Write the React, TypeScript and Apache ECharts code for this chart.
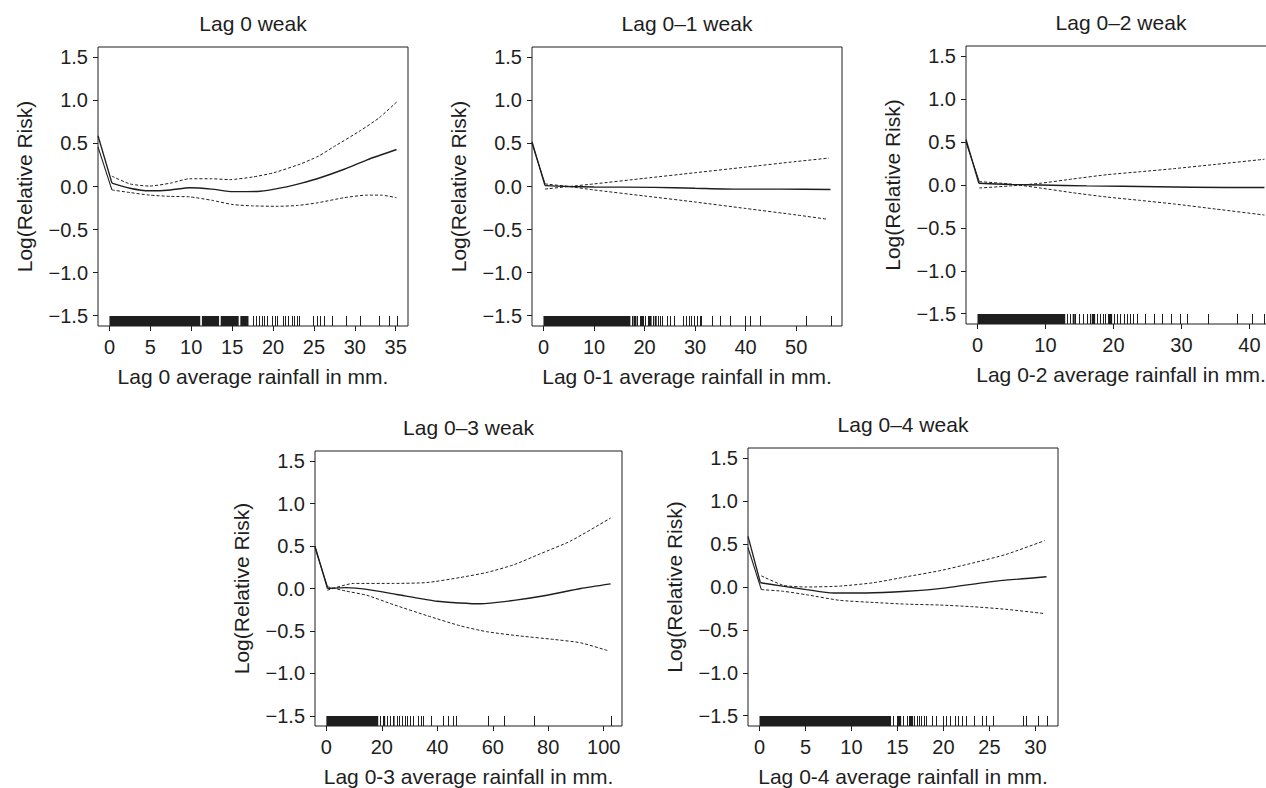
import React, { useEffect, useRef } from "react";
import * as echarts from "echarts";

// ---------- data ----------
const Y_MIN = -1.62;
const Y_MAX = 1.62;
const Y_TICKS = [-1.5, -1.0, -0.5, 0.0, 0.5, 1.0, 1.5];
const Y_NAME = "Log(Relative Risk)";

// Panel 1 : Lag 0
const P1_TITLE = "Lag 0 weak";
const P1_XNAME = "Lag 0 average rainfall in mm.";
const P1_XRANGE = [-1.4, 36.5];
const P1_XTICKS = [0, 5, 10, 15, 20, 25, 30, 35];
const P1_LEAD = [[-1.4, 0.59], [-1.4, 0.46]];
const P1_FIT = [[0.3, 0.04], [2.5, -0.02], [4.9, -0.05], [7.5, -0.04], [9.8, -0.015], [12.5, -0.03], [15.1, -0.06], [18.4, -0.055], [21.3, -0.01], [23.5, 0.04], [25.4, 0.09], [28.7, 0.2], [31.5, 0.31], [35.1, 0.43]];
const P1_UPPER = [[0.3, 0.12], [2.5, 0.03], [4.9, 0.005], [7.5, 0.04], [9.8, 0.09], [12.5, 0.09], [14.7, 0.08], [17.5, 0.11], [20.1, 0.16], [23.3, 0.26], [25.5, 0.35], [27.4, 0.46], [30.7, 0.65], [33.0, 0.8], [35.1, 0.98]];
const P1_LOWER = [[0.3, -0.04], [2.5, -0.07], [4.9, -0.1], [7.5, -0.115], [9.8, -0.12], [12.5, -0.16], [15.1, -0.21], [17.5, -0.225], [20.5, -0.23], [23.0, -0.22], [25.4, -0.19], [28.7, -0.13], [31.5, -0.1], [33.2, -0.1], [35.1, -0.13]];
const P1_RUG_BLOCKS = [[0, 11.1], [11.3, 13.4], [13.6, 15.8], [16.0, 17.0]];
const P1_RUG = [17.6, 17.93, 18.34, 18.62, 18.91, 19.32, 19.85, 20.26, 20.47, 21.2, 21.49, 21.78, 22.31, 22.6, 22.92, 23.13, 24.85, 25.38, 25.79, 26.28, 27.22, 28.94, 30.58, 32.95, 34.18, 35.12];

// Panel 2 : Lag 0-1
const P2_TITLE = "Lag 0\u20131 weak";
const P2_XNAME = "Lag 0-1 average rainfall in mm.";
const P2_XRANGE = [-2.27, 59.07];
const P2_XTICKS = [0, 10, 20, 30, 40, 50];
const P2_LEAD = [[-2.27, 0.52], [-2.27, 0.5]];
const P2_FIT = [[0.3, 0.01], [5, 0.0], [10, -0.005], [21.8, -0.01], [30, -0.02], [37.6, -0.03], [47, -0.03], [56.8, -0.035]];
const P2_UPPER = [[0.3, -0.03], [5, 0.0], [10, 0.03], [20, 0.095], [30, 0.16], [40, 0.225], [50, 0.29], [56.5, 0.33]];
const P2_LOWER = [[0.3, 0.03], [5, 0.0], [10, -0.04], [20, -0.11], [30, -0.18], [40, -0.255], [50, -0.33], [56.2, -0.38]];
const P2_RUG_BLOCKS = [[0, 17.2], [17.8, 18.4], [19.3, 19.9], [20.8, 21.4], [22.0, 22.4]];
const P2_RUG = [17.5, 18.15, 18.6, 19.1, 19.7, 20.1, 20.6, 21.1, 21.7, 22.1, 22.6, 23.0, 23.4, 24.4, 25.1, 25.9, 27.7, 28.2, 28.7, 29.2, 29.7, 30.4, 30.9, 31.2, 33.3, 35.0, 37.0, 39.9, 40.9, 42.8, 52.0, 56.8];

// Panel 3 : Lag 0-2
const P3_TITLE = "Lag 0\u20132 weak";
const P3_XNAME = "Lag 0-2 average rainfall in mm.";
const P3_XRANGE = [-1.69, 43.9];
const P3_XTICKS = [0, 10, 20, 30, 40];
const P3_LEAD = [[-1.69, 0.53], [-1.69, 0.5]];
const P3_FIT = [[0.2, 0.02], [5, 0.005], [9.2, 0.0], [16.1, -0.01], [26.4, -0.02], [36.7, -0.03], [42.2, -0.03]];
const P3_UPPER = [[0.25, -0.035], [5, -0.01], [9.2, 0.02], [14, 0.07], [19, 0.12], [24, 0.155], [28.8, 0.19], [35, 0.24], [42.2, 0.3]];
const P3_LOWER = [[0.25, 0.04], [5, 0.01], [9.2, -0.035], [14, -0.09], [19, -0.14], [24, -0.18], [28.8, -0.22], [35, -0.28], [42.2, -0.35]];
const P3_RUG_BLOCKS = [[0, 12.9], [14.0, 14.3], [16.8, 17.3], [19.2, 19.8]];
const P3_RUG = [13.1, 13.6, 14.4, 14.9, 15.5, 16.1, 16.6, 17.1, 17.6, 18.0, 18.4, 18.8, 19.3, 19.6, 20.1, 20.5, 21.0, 21.5, 22.0, 22.5, 22.9, 23.4, 24.66, 25.9, 27.1, 28.4, 29.8, 30.8, 33.9, 38.2, 40.4, 42.2];

// Panel 4 : Lag 0-3
const P4_TITLE = "Lag 0\u20133 weak";
const P4_XNAME = "Lag 0-3 average rainfall in mm.";
const P4_XRANGE = [-4.1, 106.6];
const P4_XTICKS = [0, 20, 40, 60, 80, 100];
const P4_LEAD = [[-4.1, 0.5], [-4.1, 0.48]];
const P4_FIT = [[0.4, 0.0], [7, 0.01], [14.6, -0.01], [25.4, -0.07], [39.9, -0.15], [48, -0.17], [55.5, -0.18], [67.6, -0.14], [79.6, -0.08], [91.7, 0.0], [102.5, 0.055]];
const P4_UPPER = [[0.4, -0.02], [9.8, 0.06], [24.2, 0.06], [36.3, 0.07], [48.3, 0.13], [58, 0.19], [67.6, 0.28], [77.2, 0.41], [88.1, 0.56], [102.5, 0.83]];
const P4_LOWER = [[0.4, 0.02], [7, -0.03], [14.6, -0.08], [24.2, -0.19], [36.3, -0.32], [48.3, -0.44], [58, -0.51], [70, -0.56], [82, -0.6], [91.7, -0.64], [101.3, -0.73]];
const P4_RUG_BLOCKS = [[0, 18.7], [20.5, 21.2], [24.1, 24.6]];
const P4_RUG = [19.3, 20.5, 21.7, 22.9, 24.1, 25.3, 26.3, 27.1, 28.3, 29.2, 30.1, 31.1, 33.1, 34.0, 34.9, 37.6, 41.9, 44.0, 45.5, 46.7, 58.4, 63.9, 74.7, 102.5];

// Panel 5 : Lag 0-4
const P5_TITLE = "Lag 0\u20134 weak";
const P5_XNAME = "Lag 0-4 average rainfall in mm.";
const P5_XRANGE = [-1.25, 32.45];
const P5_XTICKS = [0, 5, 10, 15, 20, 25, 30];
const P5_LEAD = [[-1.25, 0.59], [-1.25, 0.46]];
const P5_FIT = [[0.1, 0.05], [2.5, 0.01], [5.1, -0.03], [8, -0.07], [11.6, -0.07], [16, -0.05], [20.3, -0.01], [25, 0.06], [31.2, 0.12]];
const P5_UPPER = [[0.2, 0.13], [2.6, 0.02], [5.1, 0.0], [8.7, 0.01], [12.4, 0.05], [16, 0.12], [19.6, 0.19], [23.2, 0.28], [26.8, 0.38], [31, 0.54]];
const P5_LOWER = [[0.2, -0.03], [2.6, -0.05], [5.1, -0.09], [8.7, -0.155], [12.4, -0.18], [16, -0.2], [19.6, -0.21], [23.2, -0.23], [26.8, -0.26], [31, -0.31]];
const P5_RUG_BLOCKS = [[0, 14.3], [15.0, 15.4], [16.3, 16.7]];
const P5_RUG = [14.5, 14.9, 15.2, 15.6, 16.0, 16.2, 16.5, 16.8, 17.1, 17.3, 17.6, 17.9, 18.1, 18.7, 19.2, 20.0, 20.3, 20.7, 21.2, 21.6, 22.0, 22.5, 23.3, 24.2, 24.6, 25.4, 28.6, 29.0, 30.3, 31.2];

// ---------- layout & style ----------
const LAYOUT = [
  { left: 98, top: 47, width: 310, height: 279 },
  { left: 532, top: 47, width: 310, height: 279 },
  { left: 966, top: 46, width: 310, height: 278 },
  { left: 315, top: 451, width: 307, height: 275 },
  { left: 748, top: 448, width: 310, height: 278 },
];
const INK = "#1e1e1e";
const FONT = '"Liberation Sans", Arial, Helvetica, sans-serif';
const RUG_LEN = 10;

const PANELS = [
  { title: P1_TITLE, xName: P1_XNAME, xRange: P1_XRANGE, xTicks: P1_XTICKS, lead: P1_LEAD, fit: P1_FIT, upper: P1_UPPER, lower: P1_LOWER, blocks: P1_RUG_BLOCKS, rug: P1_RUG },
  { title: P2_TITLE, xName: P2_XNAME, xRange: P2_XRANGE, xTicks: P2_XTICKS, lead: P2_LEAD, fit: P2_FIT, upper: P2_UPPER, lower: P2_LOWER, blocks: P2_RUG_BLOCKS, rug: P2_RUG },
  { title: P3_TITLE, xName: P3_XNAME, xRange: P3_XRANGE, xTicks: P3_XTICKS, lead: P3_LEAD, fit: P3_FIT, upper: P3_UPPER, lower: P3_LOWER, blocks: P3_RUG_BLOCKS, rug: P3_RUG },
  { title: P4_TITLE, xName: P4_XNAME, xRange: P4_XRANGE, xTicks: P4_XTICKS, lead: P4_LEAD, fit: P4_FIT, upper: P4_UPPER, lower: P4_LOWER, blocks: P4_RUG_BLOCKS, rug: P4_RUG },
  { title: P5_TITLE, xName: P5_XNAME, xRange: P5_XRANGE, xTicks: P5_XTICKS, lead: P5_LEAD, fit: P5_FIT, upper: P5_UPPER, lower: P5_LOWER, blocks: P5_RUG_BLOCKS, rug: P5_RUG },
];

const fmtY = (v: number) => (v < 0 ? "\u2212" : "") + Math.abs(v).toFixed(1);

function buildOption() {
  const grid: any[] = [];
  const xAxis: any[] = [];
  const yAxis: any[] = [];
  const series: any[] = [];
  const graphic: any[] = [];

  PANELS.forEach((p, i) => {
    const g = LAYOUT[i];
    grid.push({
      left: g.left, top: g.top, width: g.width, height: g.height,
      show: true, borderColor: INK, borderWidth: 1, backgroundColor: "transparent",
      containLabel: false, outerBoundsMode: "none",
    });
    xAxis.push({
      type: "value", gridIndex: i, min: p.xRange[0], max: p.xRange[1], position: "bottom",
      axisLine: { show: false, onZero: false },
      axisTick: { show: true, inside: false, length: 5, lineStyle: { color: INK, width: 1 }, customValues: p.xTicks },
      axisLabel: { show: true, customValues: p.xTicks, margin: 11, color: INK, fontSize: 20, fontFamily: FONT, formatter: (v: number) => String(v) },
      splitLine: { show: false },
      name: p.xName, nameLocation: "middle", nameGap: 40,
      nameTextStyle: { color: INK, fontSize: 21, fontFamily: FONT },
    });
    yAxis.push({
      type: "value", gridIndex: i, min: Y_MIN, max: Y_MAX, position: "left",
      axisLine: { show: false, onZero: false },
      axisTick: { show: true, inside: false, length: 5, lineStyle: { color: INK, width: 1 }, customValues: Y_TICKS },
      axisLabel: { show: true, customValues: Y_TICKS, margin: 10, color: INK, fontSize: 20, fontFamily: FONT, formatter: fmtY },
      splitLine: { show: false },
      name: Y_NAME, nameLocation: "middle", nameGap: 63, nameRotate: 90,
      nameTextStyle: { color: INK, fontSize: 21, fontFamily: FONT },
    });

    const base = { type: "line", xAxisIndex: i, yAxisIndex: i, showSymbol: false, symbol: "none", silent: true, clip: true };
    series.push({ ...base, data: [p.lead[0], p.fit[0]], lineStyle: { color: INK, width: 1.3, type: "solid" } });
    series.push({ ...base, data: [p.lead[1], p.lower[0]], lineStyle: { color: INK, width: 1.1, type: "solid" } });
    series.push({ ...base, data: p.fit, smooth: 0.2, lineStyle: { color: INK, width: 1.4, type: "solid" } });
    series.push({ ...base, data: p.upper, smooth: 0.2, lineStyle: { color: INK, width: 1, type: [3, 2] } });
    series.push({ ...base, data: p.lower, smooth: 0.2, lineStyle: { color: INK, width: 1, type: [3, 2] } });

    series.push({
      type: "custom", xAxisIndex: i, yAxisIndex: i, silent: true,
      data: p.blocks.map((b) => [b[0], b[1], Y_MIN]),
      encode: { x: [0, 1], y: 2 },
      renderItem: (params: any, api: any) => {
        const a = api.coord([api.value(0), api.value(2)]);
        const b = api.coord([api.value(1), api.value(2)]);
        return { type: "rect", shape: { x: a[0], y: a[1] - RUG_LEN, width: Math.max(1, b[0] - a[0]), height: RUG_LEN }, style: { fill: INK } };
      },
    });
    series.push({
      type: "custom", xAxisIndex: i, yAxisIndex: i, silent: true,
      data: p.rug.map((v) => [v, Y_MIN]),
      encode: { x: 0, y: 1 },
      renderItem: (params: any, api: any) => {
        const a = api.coord([api.value(0), api.value(1)]);
        const x = Math.round(a[0]) + 0.5;
        return { type: "line", shape: { x1: x, y1: a[1], x2: x, y2: a[1] - RUG_LEN }, style: { stroke: INK, lineWidth: 1 } };
      },
    });

    graphic.push({
      type: "text",
      x: g.left + g.width / 2,
      y: g.top - 24,
      style: { text: p.title, fontSize: 21, fontFamily: FONT, fill: INK, align: "center", verticalAlign: "middle" },
      silent: true,
    });
  });

  return { animation: false, backgroundColor: "#ffffff", grid, xAxis, yAxis, series, graphic };
}

export default function App() {
  const ref = useRef<HTMLDivElement>(null);
  useEffect(() => {
    document.body.style.margin = "0";
    const chart = echarts.init(ref.current as HTMLDivElement, null, { renderer: "svg" });
    chart.setOption(buildOption() as any);
    return () => chart.dispose();
  }, []);
  return <div ref={ref} style={{ width: 1266, height: 788, background: "#fff" }} />;
}
